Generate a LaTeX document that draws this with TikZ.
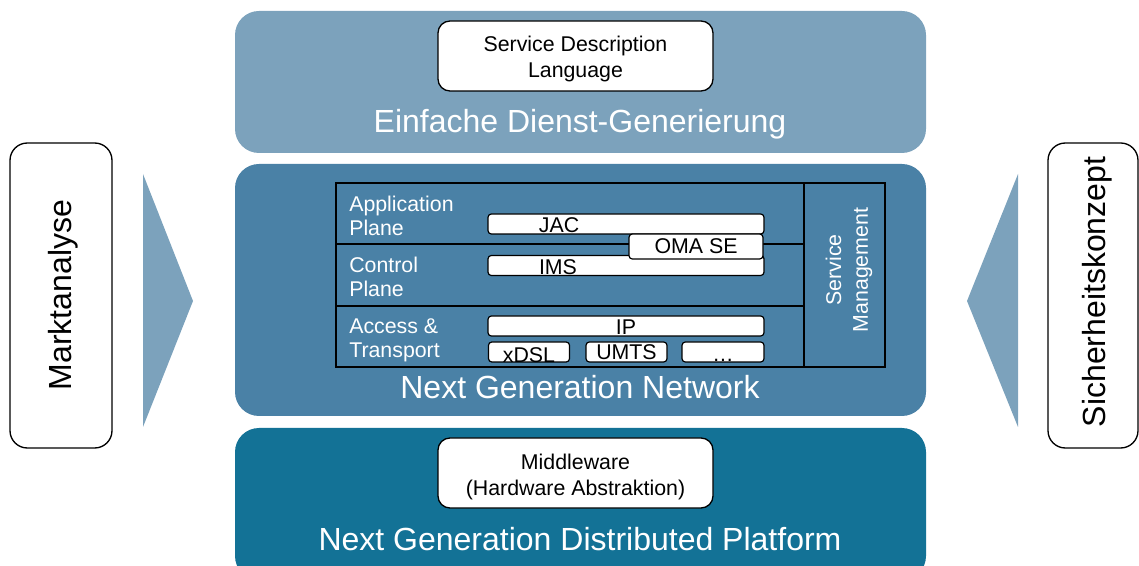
\documentclass[tikz,border=0pt]{standalone}
\usepackage{fontspec}
\setmainfont{Liberation Sans}
\definecolor{cTop}{RGB}{124,162,188}
\definecolor{cMid}{RGB}{74,129,166}
\definecolor{cBot}{RGB}{19,114,150}
\definecolor{cTri}{RGB}{124,162,188}
\begin{document}
\begin{tikzpicture}[x=0.75pt,y=-0.75pt,
  band/.style={draw=none, rounded corners=18pt, inner sep=0pt},
  wbox/.style={draw=black, fill=white, line width=1pt, rounded corners=9pt, inner sep=0pt},
  wtxt/.style={align=center, inner sep=0pt, font=\fontsize{16}{19.5}\selectfont},
  sidebox/.style={draw=black, fill=white, line width=1pt, rounded corners=13pt, inner sep=0pt},
  sbox/.style={draw=black, fill=white, line width=0.9pt, rounded corners=2.5pt, inner sep=0pt, minimum height=15pt},
  title/.style={text=white, font=\fontsize{24}{28}\selectfont, anchor=base, inner sep=0pt},
  plane/.style={text=white, font=\fontsize{16}{18}\selectfont, align=left, anchor=base west, inner sep=0pt},
  blbl/.style={text=black, font=\fontsize{16}{18}\selectfont, anchor=base, inner sep=0pt},
  sidetxt/.style={text=black, font=\fontsize{24}{28}\selectfont, rotate=90, inner sep=0pt},
  grid/.style={draw=black, line width=1.1pt}
]
\useasboundingbox (0,0) rectangle (1139,566);

% bands
\node[band, fill=cTop, minimum width=518.25pt, minimum height=106.5pt] (top) at (580.5,82) {};
\node[band, fill=cMid, minimum width=518.25pt, minimum height=189pt] (mid) at (580.5,290) {};
\node[band, fill=cBot, minimum width=518.25pt, minimum height=114pt] (bot) at (580.5,504) {};

% top content
\node[wbox, minimum width=206.25pt, minimum height=52.5pt] (sdl) at (575.5,56) {};
\node[wtxt] (sdlT) at (575.5,59) {Service Description\\Language};
\node[title] (tTop) at (580,133) {Einfache Dienst-Generierung};

% bottom content
\node[wbox, minimum width=206.25pt, minimum height=52.5pt] (mw) at (575.5,473) {};
\node[wtxt] (mwT) at (575.5,477) {Middleware\\(Hardware Abstraktion)};
\node[title] (tBot) at (580,550) {Next Generation Distributed Platform};

% middle content
\node[title] (tMid) at (580,399) {Next Generation Network};
\draw[grid] (336,183) rectangle (885,367);
\draw[grid] (804,183) -- (804,367);
\draw[grid] (336,244) -- (804,244);
\draw[grid] (336,306) -- (804,306);

\node[plane] (lApp) at (349,236) {Application\\Plane};
\node[plane] (lCtl) at (349,297) {Control\\Plane};
\node[plane] (lAcc) at (349,358) {Access \&\\Transport};

\node[text=white, font=\fontsize{16}{20}\selectfont, rotate=90, align=center, inner sep=0pt] (sm) at (849,270) {Service\\Management};

\node[sbox, minimum width=207pt] (jac) at (626,224) {};
\node[blbl] (jacT) at (559,233) {JAC};
\node[sbox, minimum width=207pt] (ims) at (626,265.5) {};
\node[blbl] (imsT) at (558,275) {IMS};
\node[sbox, minimum width=100.5pt, minimum height=18.75pt] (oma) at (696,246.5) {};
\node[blbl] (omaT) at (696,254) {OMA SE};
\node[sbox, minimum width=207pt] (ip) at (626,326) {};
\node[blbl] (ipT) at (626,335) {IP};
\node[sbox, minimum width=60.75pt] (xdsl) at (529,352) {};
\node[blbl] (xdslT) at (529,363) {xDSL};
\node[sbox, minimum width=60.75pt] (umts) at (626.5,352) {};
\node[blbl] (umtsT) at (626.5,360) {UMTS};
\node[sbox, minimum width=61.5pt] (etc) at (723,352) {};
\node[blbl] (etcT) at (723,362) {\dots};

% side boxes
\node[sidebox, minimum width=76.5pt, minimum height=228.75pt] (left) at (61,295.5) {};
\node[sidetxt] (leftT) at (63,295) {Marktanalyse};
\node[sidebox, minimum width=67.5pt, minimum height=228.75pt] (right) at (1093,295.5) {};
\node[sidetxt] (rightT) at (1097,292) {Sicherheitskonzept};

% triangles
\fill[cTri] (143,174) -- (193,301) -- (143,427) -- cycle;
\fill[cTri] (1018,174) -- (967,301) -- (1018,427) -- cycle;
\end{tikzpicture}
\end{document}
